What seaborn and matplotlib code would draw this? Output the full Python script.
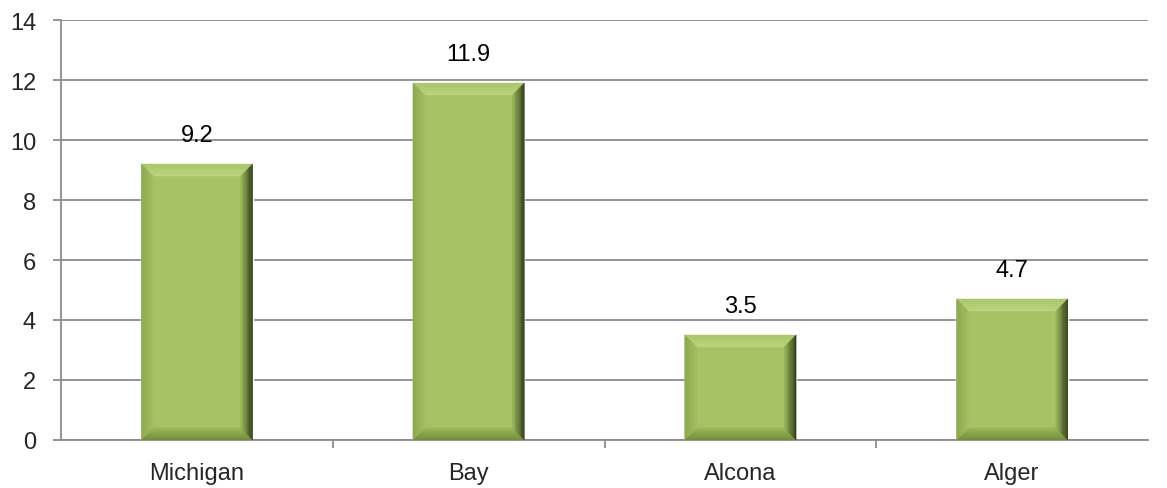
import matplotlib
matplotlib.use("Agg")
import matplotlib.pyplot as plt
import seaborn as sns
import numpy as np
from matplotlib.patches import Polygon
from matplotlib.colors import to_rgb

# Data
counties = ["Michigan", "Bay", "Alcona", "Alger"]
values = [9.2, 11.9, 3.5, 4.7]
y_ticks = [0, 2, 4, 6, 8, 10, 12, 14]

sns.set_style("white")
plt.rcParams["font.family"] = ["Liberation Sans", "DejaVu Sans"]

face = "#A6C264"
grid_col = "#8C8C8C"

fig = plt.figure(figsize=(11.67, 4.89), dpi=100)
ax = fig.add_axes([0.0523, 0.0982, 0.9314, 0.8588])

sns.barplot(x=counties, y=values, color=face, saturation=1, width=0.41, ax=ax, zorder=2)

ax.set_xlim(-0.5, 3.5)
ax.set_ylim(0, 14)
ax.set_yticks(y_ticks)
ax.yaxis.grid(True, color=grid_col, linewidth=1.3, zorder=0)
ax.set_axisbelow(True)
for s in ["top", "right"]:
    ax.spines[s].set_visible(False)
for s in ["left", "bottom"]:
    ax.spines[s].set_color(grid_col)
    ax.spines[s].set_linewidth(1.3)

ax.tick_params(axis="y", length=6, width=1.3, color=grid_col, pad=12, labelsize=17, left=True)
ax.tick_params(axis="x", which="major", length=0, pad=16, labelsize=17)
ax.set_xticks([0.5, 1.5, 2.5], minor=True)
ax.tick_params(axis="x", which="minor", length=6, width=1.3, color=grid_col, bottom=True)
ax.set_xlabel("")
ax.set_ylabel("")

# bevel effect on each bar
fig.canvas.draw()
inv = ax.transData.inverted()
p0 = inv.transform((0, 0))
p1 = inv.transform((12, 12))
bx, by = p1[0] - p0[0], p1[1] - p0[1]


def mix(c1, c2, t):
    a, b = np.array(to_rgb(c1)), np.array(to_rgb(c2))
    return tuple(a + (b - a) * t)


sides = {
    "top": ("#A9C66A", "#BCD780"),
    "bottom": ("#6F8A39", "#9AB55A"),
    "left": ("#8CA64F", "#A2BE60"),
    "right": ("#2C3816", "#9DBA5D"),
}
n = 10
for bar in ax.patches:
    x0, y0 = bar.get_x(), bar.get_y()
    x1, y1 = x0 + bar.get_width(), y0 + bar.get_height()
    for k in range(n):
        t0, t1 = k / n, (k + 1) / n
        ax0, ay0, ax1, ay1 = x0 + bx * t0, y0 + by * t0, x1 - bx * t0, y1 - by * t0
        ix0, iy0, ix1, iy1 = x0 + bx * t1, y0 + by * t1, x1 - bx * t1, y1 - by * t1
        tm = (t0 + t1) / 2
        polys = {
            "top": [(ax0, ay1), (ax1, ay1), (ix1, iy1), (ix0, iy1)],
            "bottom": [(ax0, ay0), (ax1, ay0), (ix1, iy0), (ix0, iy0)],
            "left": [(ax0, ay0), (ax0, ay1), (ix0, iy1), (ix0, iy0)],
            "right": [(ax1, ay0), (ax1, ay1), (ix1, iy1), (ix1, iy0)],
        }
        for side, pts in polys.items():
            c = mix(sides[side][0], sides[side][1], tm)
            ax.add_patch(Polygon(pts, closed=True, facecolor=c, edgecolor=c,
                                 linewidth=0.3, zorder=3))

ax.bar_label(ax.containers[0], labels=[f"{v:.1f}" for v in values],
             padding=13, fontsize=17, color="black")

fig.savefig("out.png", dpi=100)
